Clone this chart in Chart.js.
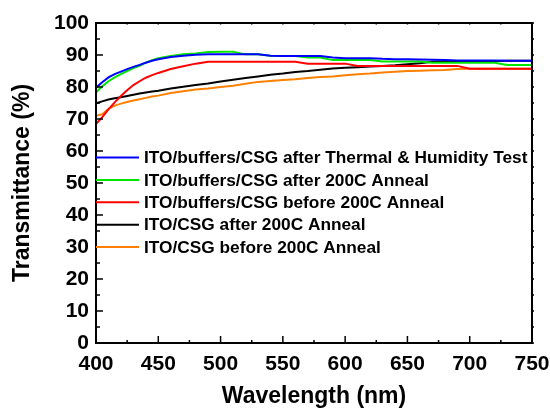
<!DOCTYPE html>
<html>
<head>
<meta charset="utf-8">
<script src="https://cdn.jsdelivr.net/npm/chart.js@4.4.1/dist/chart.umd.min.js"></script>
<style>
  body { margin: 0; background: #fff; }
</style>
</head>
<body>
<canvas id="transmittance-chart" width="550" height="410"></canvas>
<script>
const wavelengths = [400, 405, 410, 415, 420, 425, 430, 435, 440, 445, 450, 460, 470, 480, 490, 500,
  510, 520, 530, 540, 550, 560, 570, 580, 590, 600, 610, 620, 630, 640, 650, 660, 670, 680, 690, 700,
  710, 720, 730, 740, 750];

const thermalHumidity = [79.8, 81.5, 83.0, 84.0, 84.8, 85.6, 86.3, 86.9, 87.6, 88.2, 88.7, 89.4, 89.8, 90.1, 90.2, 90.2,
  90.2, 90.2, 90.2, 89.8, 89.7, 89.7, 89.7, 89.7, 89.2, 89.0, 89.0, 89.0, 88.8, 88.7, 88.7, 88.6, 88.5, 88.4, 88.3, 88.3,
  88.3, 88.3, 88.2, 88.2, 88.2];
const buffersAfter = [78.3, 80.2, 81.8, 83.0, 84.0, 85.0, 85.9, 86.6, 87.6, 88.4, 89.0, 89.7, 90.2, 90.5, 90.9, 91.0,
  91.0, 90.2, 90.2, 89.8, 89.7, 89.7, 89.2, 89.2, 88.4, 88.4, 88.4, 88.4, 88.0, 88.0, 88.0, 88.0, 87.6, 87.6, 87.6, 87.6,
  87.6, 87.6, 86.9, 86.9, 86.9];
const buffersBefore = [68.4, 70.6, 73.0, 75.2, 77.2, 79.0, 80.6, 81.8, 82.9, 83.7, 84.4, 85.6, 86.5, 87.3, 87.9, 87.9,
  87.9, 87.9, 87.9, 87.9, 87.9, 87.9, 87.3, 87.3, 87.3, 87.3, 86.6, 86.6, 86.6, 86.6, 86.6, 86.6, 86.6, 86.6, 86.6, 85.7,
  85.7, 85.7, 85.7, 85.7, 85.7];
const csgAfter = [74.9, 75.5, 76.1, 76.5, 76.8, 77.2, 77.6, 78.0, 78.3, 78.6, 78.8, 79.5, 80.1, 80.6, 81.1, 81.7,
  82.3, 82.8, 83.3, 83.8, 84.2, 84.7, 85.0, 85.4, 85.8, 86.0, 86.2, 86.4, 86.6, 86.8, 87.1, 87.4, 87.9, 87.9, 88.1, 88.1,
  88.1, 88.1, 88.2, 88.2, 88.2];
const csgBefore = [71.0, 71.5, 73.2, 74.2, 74.8, 75.3, 75.8, 76.2, 76.6, 77.0, 77.3, 78.1, 78.7, 79.2, 79.5, 80.0,
  80.4, 81.0, 81.6, 81.9, 82.2, 82.4, 82.8, 83.1, 83.3, 83.7, 84.0, 84.2, 84.5, 84.8, 85.0, 85.1, 85.2, 85.3, 85.6, 85.7,
  85.7, 85.7, 85.7, 85.7, 85.7];

const seriesLabels = [
  "ITO/buffers/CSG after Thermal & Humidity Test",
  "ITO/buffers/CSG after 200C Anneal",
  "ITO/buffers/CSG before 200C Anneal",
  "ITO/CSG after 200C Anneal",
  "ITO/CSG before 200C Anneal",
];
const seriesColors = ["#0000ff", "#00e600", "#ff0000", "#000000", "#ff8000"];
const seriesValues = [thermalHumidity, buffersAfter, buffersBefore, csgAfter, csgBefore];

const fontFamily = "'Liberation Sans', Arial, Helvetica, sans-serif";

const toPoints = (vals) => wavelengths.map((w, i) => ({ x: w, y: vals[i] }));

// keep the plot box where the reference has it, labels may overhang
const fixScale = (size) => (scale) => {
  if (scale.isHorizontal()) scale.height = size;
  else scale.width = size;
  scale.paddingLeft = 0;
  scale.paddingRight = 0;
  scale.paddingTop = 0;
  scale.paddingBottom = 0;
};

// box, inward ticks and the in-plot legend
const frame = {
  id: "frame",
  afterDraw(chart) {
    const { ctx, chartArea: a, scales } = chart;
    const x = scales.x, y = scales.y;
    const line = (x1, y1, x2, y2) => {
      ctx.beginPath();
      ctx.moveTo(x1, y1);
      ctx.lineTo(x2, y2);
      ctx.stroke();
    };
    ctx.save();
    ctx.strokeStyle = "#000";
    ctx.lineWidth = 1.5;
    for (let v = 0; v <= 100; v += 5) {
      const py = y.getPixelForValue(v);
      const len = v % 10 === 0 ? 7 : 4;
      line(a.left, py, a.left + len, py);
      line(a.right, py, a.right + 2, py);
    }
    for (let v = 400; v <= 750; v += 25) {
      const px = x.getPixelForValue(v);
      const len = v % 50 === 0 ? 7 : 3;
      line(px, a.bottom, px, a.bottom - len);
      line(px, a.top, px, a.top + 1.5);
    }
    ctx.lineWidth = 2;
    ctx.strokeRect(a.left, a.top, a.right - a.left, a.bottom - a.top);

    ctx.font = "bold 17.3px " + fontFamily;
    ctx.textBaseline = "middle";
    ctx.textAlign = "left";
    chart.data.datasets.forEach((ds, i) => {
      const ly = 157.5 + i * 22.4;
      ctx.strokeStyle = ds.borderColor;
      ctx.lineWidth = 2;
      line(a.left, ly, a.left + 43, ly);
      ctx.fillStyle = "#000";
      ctx.fillText(ds.label, a.left + 48, ly + 1);
    });
    ctx.restore();
  },
};

const data = {
  datasets: seriesLabels.map((label, i) => ({
    label: label,
    data: toPoints(seriesValues[i]),
    borderColor: seriesColors[i],
    backgroundColor: seriesColors[i],
    borderWidth: 2,
    pointRadius: 0,
    tension: 0,
    fill: false,
  })),
};

const options = {
  responsive: false,
  animation: false,
  layout: { padding: { left: 0, right: 18, top: 23, bottom: 0 } },
  plugins: {
    legend: { display: false },
    tooltip: { enabled: false },
  },
  scales: {
    x: {
      type: "linear",
      min: 400,
      max: 750,
      grid: { display: false, drawTicks: false },
      border: { display: false },
      ticks: {
        stepSize: 50,
        padding: 9,
        color: "#000",
        font: { family: fontFamily, size: 21, weight: "bold" },
      },
      title: {
        display: true,
        text: "Wavelength (nm)",
        color: "#000",
        padding: { top: 0, bottom: 0 },
        font: { family: fontFamily, size: 23, weight: "bold" },
      },
      afterFit: fixScale(67),
    },
    y: {
      min: 0,
      max: 100,
      grid: { display: false, drawTicks: false },
      border: { display: false },
      ticks: {
        stepSize: 10,
        padding: 7,
        color: "#000",
        font: { family: fontFamily, size: 21, weight: "bold" },
      },
      title: {
        display: true,
        text: "Transmittance (%)",
        color: "#000",
        padding: { top: 9, bottom: 0 },
        font: { family: fontFamily, size: 23, weight: "bold" },
      },
      afterFit: fixScale(96),
    },
  },
};

const transmittanceChart = new Chart(document.getElementById("transmittance-chart"), {
  type: "line",
  data: data,
  options: options,
  plugins: [frame],
});
</script>
</body>
</html>
